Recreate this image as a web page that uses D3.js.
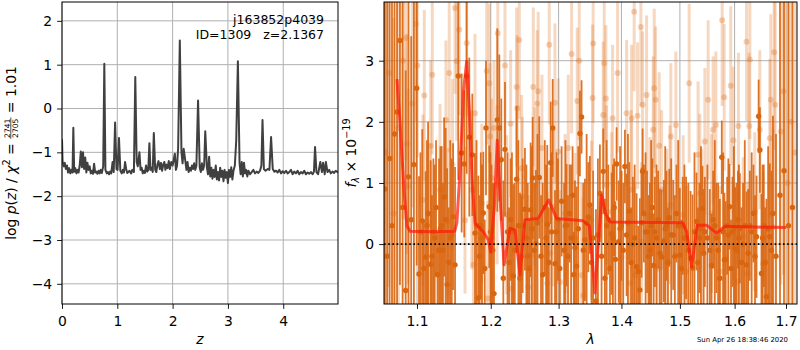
<!DOCTYPE html>
<html lang="en">
<head>
<meta charset="UTF-8">
<title>j163852p4039 - redshift fit</title>
<script src="https://cdn.jsdelivr.net/npm/d3@7"></script>
<style>
  body { margin: 0; background: #fff; }
  svg { display: block; font-family: "DejaVu Sans", sans-serif; }
  .pre { white-space: pre; }
</style>
</head>
<body>
<svg id="chart" width="800" height="350"></svg>
<script>
// ---- data ----
// log p(z) curve, [z, log p]
const pz = [
  [0.000,-0.70],[0.010,-1.20],[0.030,-1.32],[0.050,-1.24],[0.070,-1.38],[0.090,-1.30],[0.110,-1.46],[0.130,-1.36],
  [0.150,-1.48],[0.170,-1.40],[0.190,-1.46],[0.205,-0.44],[0.220,-1.44],[0.240,-1.36],[0.260,-1.48],[0.280,-1.40],
  [0.300,-1.46],[0.320,-1.30],[0.340,-0.98],[0.360,-1.34],[0.380,-1.00],[0.400,-1.38],[0.420,-1.12],[0.440,-1.46],
  [0.460,-1.24],[0.480,-1.40],[0.500,-1.32],[0.520,-1.48],[0.540,-1.42],[0.560,-1.49],[0.580,-1.26],[0.600,-1.46],
  [0.620,-1.44],[0.640,-1.49],[0.660,-1.42],[0.680,-1.48],[0.700,-1.40],[0.720,-1.47],[0.745,-1.32],[0.765,1.02],
  [0.785,-1.40],[0.810,-1.48],[0.830,-1.45],[0.850,-1.50],[0.870,-1.44],[0.890,-1.48],[0.915,-1.22],[0.935,-1.45],
  [0.960,-0.32],[0.985,-1.38],[1.005,-1.40],[1.030,-0.67],[1.055,-1.42],[1.080,-1.48],[1.100,-1.40],[1.120,-1.46],
  [1.140,-1.22],[1.160,-1.38],[1.180,-1.47],[1.200,-1.45],[1.220,-1.42],[1.250,-1.48],[1.270,-1.40],[1.300,-1.45],
  [1.325,0.72],[1.350,-1.22],[1.370,-1.32],[1.400,-1.00],[1.420,-1.40],[1.440,-1.35],[1.460,-1.48],[1.480,-1.42],
  [1.500,-1.47],[1.520,-1.30],[1.540,-1.44],[1.560,-1.40],[1.580,-0.79],[1.600,-1.40],[1.620,-1.35],[1.640,-1.45],
  [1.660,-0.56],[1.685,-1.40],[1.705,-1.45],[1.725,-1.28],[1.745,-1.20],[1.770,-1.38],[1.790,-1.24],[1.810,-1.42],
  [1.830,-1.28],[1.850,-1.22],[1.870,-1.40],[1.890,-1.28],[1.910,-1.36],[1.930,-1.20],[1.950,-1.38],[1.975,-1.22],
  [2.000,-1.30],[2.040,-1.03],[2.060,-1.40],[2.080,-1.30],[2.100,-0.90],[2.130,1.55],[2.160,-1.00],[2.180,-1.25],
  [2.200,-0.92],[2.230,-1.20],[2.250,-1.40],[2.270,-1.22],[2.290,-1.45],[2.310,-1.35],[2.330,-1.42],[2.350,-1.30],
  [2.370,-1.38],[2.390,-1.25],[2.410,-1.40],[2.430,-1.30],[2.460,0.18],[2.490,-1.35],[2.510,-1.45],[2.530,-1.25],
  [2.550,-1.40],[2.570,-1.30],[2.590,-0.52],[2.620,-1.35],[2.640,-1.50],[2.660,-1.10],[2.680,-1.55],[2.700,-1.35],
  [2.720,-1.60],[2.740,-1.40],[2.760,-1.56],[2.780,-1.30],[2.800,-1.62],[2.820,-1.45],[2.840,-1.64],[2.860,-1.35],
  [2.880,-1.56],[2.900,-1.42],[2.920,-1.66],[2.940,-1.40],[2.960,-1.58],[2.980,-1.45],[3.000,-1.70],[3.020,-1.40],
  [3.040,-1.56],[3.060,-1.34],[3.080,-1.62],[3.100,-1.42],[3.125,-1.30],[3.150,-0.73],[3.180,1.08],[3.210,-1.24],
  [3.230,-1.50],[3.250,-1.22],[3.270,-1.55],[3.290,-1.24],[3.310,-1.48],[3.330,-1.40],[3.350,-1.55],[3.370,-1.42],
  [3.400,-1.50],[3.430,-1.45],[3.460,-1.40],[3.490,-1.48],[3.520,-1.44],[3.550,-1.47],[3.580,-1.42],[3.605,-1.30],
  [3.625,-0.26],[3.650,-1.38],[3.680,-1.42],[3.720,-1.38],[3.750,-1.40],[3.780,-0.65],[3.810,-1.38],[3.840,-1.44],
  [3.870,-1.42],[3.900,-1.46],[3.930,-1.40],[3.960,-1.48],[3.990,-1.43],[4.020,-1.47],[4.050,-1.42],[4.080,-1.48],
  [4.110,-1.45],[4.140,-1.40],[4.170,-1.50],[4.200,-1.44],[4.230,-1.48],[4.260,-1.42],[4.290,-1.50],[4.320,-1.45],
  [4.350,-1.48],[4.380,-1.42],[4.410,-1.50],[4.440,-1.46],[4.470,-1.49],[4.500,-1.45],[4.530,-1.50],[4.555,-1.44],
  [4.575,-0.88],[4.600,-1.45],[4.630,-1.50],[4.670,-1.22],[4.700,-1.45],[4.720,-1.24],[4.750,-1.50],[4.770,-1.22],
  [4.800,-1.45],[4.830,-1.40],[4.860,-1.48],[4.890,-1.44],[4.920,-1.47],[4.950,-1.42],[4.990,-1.46]
];

// spectrum, [wavelength (um), flux (1e-19), error]
const darkPoints = [
  [1.0590,0.9,4.5],[1.0620,-0.2,4.2],[1.0650,1.4,4.0],[1.0680,0.3,4.4],[1.0712,1.8,3.9],[1.0744,2.16,3.6],
  [1.0781,3.33,4.0],[1.0815,0.6,3.4],[1.0854,-0.76,3.6],[1.0890,1.1,3.2],[1.0925,0.4,3.0],[1.0960,1.3,2.9],
  [1.0996,2.55,2.9],[1.1026,-0.49,1.6],[1.1069,0.38,1.5],[1.1113,-0.21,1.4],[1.1145,0.5,1.5],[1.1179,-0.33,1.7],
  [1.1215,0.2,1.2],[1.1250,0.6,1.1],[1.1290,-0.1,1.5],[1.1325,0.3,1.3],[1.1358,0.77,1.3],[1.1398,-0.66,1.9],
  [1.1440,0.1,1.6],[1.1478,0.45,1.2],[1.1505,-0.34,1.6],[1.1549,2.75,1.7],[1.1595,1.49,1.3],[1.1631,1.31,1.2],
  [1.1664,2.75,1.6],[1.1700,1.75,1.3],[1.1742,1.46,1.0],[1.1779,0.18,1.3],[1.1825,-0.88,2.0],[1.1860,0.3,1.2],
  [1.1895,0.51,1.0],[1.1933,1.9,1.1],[1.1979,0.61,1.0],[1.2010,0.1,1.2],[1.2046,-0.81,1.8],[1.2093,2.03,1.5],
  [1.2122,1.9,1.2],[1.2150,1.38,1.0],[1.2179,-0.56,1.6],[1.2203,1.55,1.1],[1.2240,0.2,1.3],[1.2285,0.4,1.0],
  [1.2323,-0.52,1.5],[1.2372,1.06,1.2],[1.2421,-0.56,1.4],[1.2460,0.3,1.1],[1.2494,0.57,1.0],[1.2535,-0.2,1.2],
  [1.2578,0.56,1.1],[1.2608,1.08,1.0],[1.2657,0.01,1.2],[1.2707,1.09,1.0],[1.2758,-0.5,1.5],[1.2790,0.6,1.1],
  [1.2827,0.32,1.3],[1.2879,1.33,1.0],[1.2910,1.9,0.8],[1.2945,-0.32,1.2],[1.2990,0.4,1.0],[1.3046,0.7,0.9],
  [1.3085,-0.1,1.1],[1.3123,0.31,1.0],[1.3170,0.5,0.8],[1.3216,0.8,0.8],[1.3253,-0.06,1.1],[1.3279,-0.36,1.3],
  [1.3331,1.81,0.7],[1.3357,2.08,0.6],[1.3410,0.07,1.0],[1.3463,0.44,0.9],[1.3489,0.64,0.8],[1.3540,0.1,1.1],
  [1.3585,-0.93,1.5],[1.3649,0.83,0.8],[1.3703,1.19,0.7],[1.3730,-0.56,1.3],[1.3785,0.4,0.9],[1.3839,0.17,1.0],
  [1.3880,0.6,0.8],[1.3921,1.31,0.6],[1.3955,0.04,1.0],[1.4000,0.3,0.9],[1.4058,1.27,0.6],[1.4086,0.15,1.0],
  [1.4130,0.54,0.8],[1.4190,0.0,1.1],[1.4253,-0.37,1.2],[1.4308,-0.75,1.5],[1.4337,0.35,0.9],[1.4354,1.19,0.7],
  [1.4376,0.5,0.8],[1.4430,0.2,1.0],[1.4478,-0.1,1.1],[1.4520,0.6,0.8],[1.4564,0.2,0.9],[1.4620,0.4,0.8],
  [1.4680,-0.21,1.1],[1.4719,0.05,1.0],[1.4765,0.3,0.9],[1.4812,0.43,0.8],[1.4882,0.15,0.9],[1.4940,0.5,0.8],
  [1.4999,-0.18,1.1],[1.5050,0.3,0.8],[1.5110,0.1,1.0],[1.5189,-0.23,1.1],[1.5224,-0.39,1.2],[1.5296,0.37,0.8],
  [1.5350,0.1,0.9],[1.5404,0.58,0.7],[1.5448,0.2,0.9],[1.5539,-0.1,1.0],[1.5600,0.4,0.8],[1.5660,0.1,0.9],
  [1.5724,-0.56,1.3],[1.5760,1.42,0.6],[1.5808,-0.26,1.1],[1.5860,0.3,0.8],[1.5904,0.61,0.7],[1.5960,0.2,0.9],
  [1.6010,-0.07,1.0],[1.6063,0.4,0.8],[1.6099,0.26,0.9],[1.6160,0.0,1.0],[1.6227,-0.34,1.2],[1.6290,0.3,0.9],
  [1.6360,0.5,0.8],[1.6419,0.12,1.0],[1.6460,2.09,0.6],[1.6485,1.54,0.7],[1.6515,-0.48,1.3],[1.6560,0.3,1.0],
  [1.6612,-0.86,1.6],[1.6678,0.12,1.2],[1.6740,0.5,1.6],[1.6800,-0.2,2.0],[1.6880,0.8,4.5],[1.6960,1.2,5.0],
  [1.7050,0.3,5.0],[1.7130,0.6,5.5],
  // fainter pixels filling the gaps between the ones with visible dots
  [1.1045,0.2,1.3],[1.1090,-0.4,0.8],[1.1130,0.3,1.4],[1.1196,-0.2,1.0],[1.1232,0.1,1.2],[1.1270,-0.5,0.7],
  [1.1308,0.25,1.35],[1.1342,-0.1,1.1],[1.1378,0.4,1.5],[1.1420,-0.3,0.9],[1.1460,0.15,1.25],[1.1800,0.3,1.4],
  [1.1843,-0.2,1.0],[1.1877,0.1,1.2],[1.1915,-0.4,0.8],[1.1995,0.2,1.3],[1.2028,-0.1,1.1],[1.2262,-0.3,0.9],
  [1.2304,0.2,1.3],[1.2345,-0.1,1.1],[1.2398,0.3,1.4],[1.2440,-0.2,1.0],[1.2515,0.1,1.2],[1.2556,-0.4,0.8],
  [1.2596,0.25,1.35],[1.2632,-0.1,1.1],[1.2680,0.35,1.45],[1.2733,-0.2,1.0],[1.2810,0.1,1.2],[1.2850,-0.3,0.9],
  [1.2893,0.2,1.3],[1.2968,0.2,1.3],[1.3018,-0.4,0.8],[1.3105,0.3,1.4],[1.3145,-0.2,1.0],[1.3193,0.1,1.2],
  [1.3235,-0.5,0.7],[1.3305,0.25,1.35],[1.3385,-0.1,1.1],[1.3437,0.35,1.45],[1.3515,-0.3,0.9],[1.3617,0.15,1.25],
  [1.3676,-0.2,1.0],[1.3757,0.3,1.4],[1.3812,-0.4,0.8],[1.3860,0.1,1.2],[1.3900,-0.25,0.95],[1.3978,0.25,1.35],
  [1.4030,-0.1,1.1],[1.4108,0.35,1.45],[1.4160,-0.3,0.9],[1.4220,0.1,1.2],[1.4280,-0.45,0.75],[1.4405,0.2,1.3],
  [1.4455,-0.2,1.0],[1.4500,0.3,1.4],[1.4542,-0.35,0.85],[1.4592,0.1,1.2],[1.4650,-0.15,1.05],[1.4742,0.25,1.35],
  [1.4790,-0.3,0.9],[1.4847,0.15,1.25],[1.4911,-0.2,1.0],[1.4970,0.3,1.4],[1.5025,-0.4,0.8],[1.5080,0.1,1.2],
  [1.5150,-0.1,1.1],[1.5260,0.2,1.3],[1.5323,-0.3,0.9],[1.5377,0.25,1.35],[1.5426,-0.15,1.05],[1.5494,0.1,1.2],
  [1.5570,-0.35,0.85],[1.5630,0.3,1.4],[1.5692,-0.1,1.1],[1.5784,0.2,1.3],[1.5832,-0.25,0.95],[1.5882,0.15,1.25],
  [1.5932,-0.4,0.8],[1.5985,0.25,1.35],[1.6036,-0.1,1.1],[1.6081,0.1,1.2],[1.6130,-0.3,0.9],[1.6193,0.3,1.4],
  [1.6258,-0.15,1.05],[1.6325,0.2,1.3],[1.6390,-0.2,1.0],[1.6537,0.1,1.2],[1.6586,-0.3,0.9],[1.6645,0.25,1.35],
  [1.6710,-0.1,1.3]
];

const lightPoints = [
  [1.0600,1.5,3.5],[1.0640,2.8,3.5],[1.0700,0.5,3.2],[1.0760,1.9,3.0],[1.0820,3.0,2.6],[1.0854,3.37,2.0],
  [1.0870,1.64,1.8],[1.0884,0.94,1.6],[1.0940,2.3,1.7],[1.0987,3.6,1.6],[1.1004,2.92,1.5],[1.1078,0.72,1.4],
  [1.1095,2.43,1.4],[1.1170,0.34,1.3],[1.1179,1.61,1.4],[1.1200,2.77,1.3],[1.1303,0.89,1.4],[1.1382,2.03,1.3],
  [1.1410,0.37,1.2],[1.1426,2.8,1.3],[1.1470,1.3,1.4],[1.1505,3.86,1.4],[1.1527,2.99,1.3],[1.1562,3.51,1.4],
  [1.1641,0.39,1.2],[1.1664,3.29,1.2],[1.1735,0.89,1.3],[1.1757,-0.34,1.4],[1.1779,2.14,1.3],[1.1874,0.67,1.3],
  [1.1943,2.83,1.2],[1.1955,-0.89,1.6],[1.1979,2.63,1.3],[1.1989,1.76,1.2],[1.2013,1.08,1.3],[1.2046,1.9,1.1],
  [1.2089,0.97,1.3],[1.2100,3.45,1.4],[1.2203,2.92,1.3],[1.2228,0.48,1.3],[1.2285,1.97,1.2],[1.2299,-0.73,1.5],
  [1.2372,2.57,1.3],[1.2380,2.22,1.2],[1.2411,3.34,1.3],[1.2445,1.24,1.2],[1.2455,0.78,1.3],[1.2543,-0.7,1.5],
  [1.2593,-0.18,1.4],[1.2617,2.57,1.3],[1.2642,0.94,1.3],[1.2676,2.3,1.2],[1.2691,2.5,1.3],[1.2747,1.57,1.2],
  [1.2827,-0.64,1.5],[1.2857,3.26,1.3],[1.2868,-0.15,1.4],[1.2919,0.61,1.3],[1.2944,2.31,1.3],[1.2994,1.51,1.2],
  [1.3020,-0.62,1.5],[1.3100,0.5,1.3],[1.3149,1.57,1.2],[1.3201,3.11,1.3],[1.3253,0.09,1.4],[1.3289,2.34,1.2],
  [1.3320,3.0,1.3],[1.3357,-0.51,1.5],[1.3382,-0.84,1.6],[1.3515,0.39,1.3],[1.3531,2.39,1.2],[1.3541,3.28,1.3],
  [1.3703,2.11,1.2],[1.3719,2.96,1.3],[1.3746,2.38,1.2],[1.3757,0.97,1.3],[1.3839,0.53,1.3],[1.3855,2.06,1.2],
  [1.3937,2.8,1.3],[1.4003,-0.21,1.4],[1.4086,2.14,1.2],[1.4141,-0.64,1.5],[1.4160,0.89,1.3],[1.4169,2.06,1.2],
  [1.4212,3.8,1.3],[1.4224,-0.51,1.5],[1.4269,2.1,1.2],[1.4325,3.55,1.3],[1.4337,0.04,1.3],[1.4354,2.28,1.2],
  [1.4422,2.44,1.3],[1.4478,0.45,1.3],[1.4535,1.87,1.2],[1.4552,2.55,1.3],[1.4576,2.36,1.2],[1.4621,-0.4,1.4],
  [1.4638,1.61,1.2],[1.4680,0.89,1.3],[1.4766,0.26,1.3],[1.4824,0.64,1.3],[1.4840,1.76,1.2],[1.4929,1.95,1.2],
  [1.5058,0.48,1.3],[1.5117,-0.45,1.4],[1.5165,2.63,1.3],[1.5325,1.46,1.2],[1.5357,0.83,1.3],[1.5388,0.26,1.3],
  [1.5448,1.68,1.2],[1.5508,2.36,1.3],[1.5570,0.5,1.3],[1.5600,1.87,1.2],[1.5650,1.95,1.2],[1.5724,-0.45,1.4],
  [1.5767,3.66,1.4],[1.5805,2.4,1.2],[1.5927,2.59,1.3],[1.5976,1.7,1.2],[1.6063,-0.62,1.5],[1.6072,1.93,1.2],
  [1.6163,0.12,1.3],[1.6227,3.31,1.3],[1.6245,-0.48,1.5],[1.6277,1.93,1.2],[1.6290,3.02,1.3],[1.6386,0.53,1.3],
  [1.6483,1.87,1.3],[1.6548,-0.32,1.5],[1.6678,1.73,1.3],[1.6698,2.36,1.4],[1.6743,0.28,1.6],[1.6764,3.14,1.6],
  [1.6784,2.28,1.8],[1.6897,1.84,2.5],[1.6950,2.5,3.0],[1.7030,1.0,3.5],[1.7100,2.0,4.0],[1.7180,1.5,4.0]
];

// best-fit model, [wavelength, flux]
const model = [
  [1.0744,2.70],[1.0781,2.00],[1.0832,0.90],[1.0870,0.30],[1.0910,0.21],[1.1200,0.20],[1.1500,0.21],
  [1.1530,0.35],[1.1573,1.20],[1.1620,2.50],[1.1664,2.99],[1.1700,2.20],[1.1740,1.00],[1.1780,0.34],
  [1.1895,0.20],[1.1965,0.07],[1.1999,-0.13],[1.2050,0.60],[1.2093,1.70],[1.2140,0.60],[1.2190,-0.34],
  [1.2275,0.26],[1.2348,0.23],[1.2421,-0.50],[1.2494,0.40],[1.2690,0.42],[1.2848,0.72],[1.2970,0.42],
  [1.3380,0.38],[1.3480,0.30],[1.3530,-0.30],[1.3569,-0.80],[1.3610,-0.20],[1.3678,0.80],[1.3740,0.50],
  [1.3813,0.36],[1.5050,0.35],[1.5120,0.20],[1.5210,-0.37],[1.5310,0.31],[1.5480,0.31],[1.5665,0.18],
  [1.5818,0.29],[1.7000,0.27]
];

const zTicks = [0, 1, 2, 3, 4];
const pzTicks = [-4, -3, -2, -1, 0, 1, 2];
const waveTicks = [1.1, 1.2, 1.3, 1.4, 1.5, 1.6, 1.7];
const fluxTicks = [0, 1, 2, 3];
const objName = "j163852p4039";
const objInfo = "ID=1309   z=2.1367";
const stamp = "Sun Apr 26 18:38:46 2020";

// ---- layout ----
const FONT = '"DejaVu Sans", sans-serif';
const TICK_FS = 13.9;
const left = {x0: 62, x1: 338, y0: 2, y1: 304};
const right = {x0: 384, x1: 797, y0: 2, y1: 304};

const svg = d3.select('#chart');

const xz = d3.scaleLinear().domain([0, 4.99]).range([left.x0, left.x1]);
const yz = d3.scaleLinear().domain([-4.46, 2.43]).range([left.y1, left.y0]);
const xw = d3.scaleLog().domain([1.058, 1.7222]).range([right.x0, right.x1]);
const yf = d3.scaleLinear().domain([-0.98, 3.96]).range([right.y1, right.y0]);

const defs = svg.append('defs');
[['clipL', left], ['clipR', right]].forEach(([id, b]) => {
  defs.append('clipPath').attr('id', id).append('rect')
    .attr('x', b.x0).attr('y', b.y0).attr('width', b.x1 - b.x0).attr('height', b.y1 - b.y0);
});

function grid(g, b, xs, ys, xt, yt) {
  g.selectAll(null).data(xt).enter().append('line')
    .attr('x1', d => xs(d)).attr('x2', d => xs(d)).attr('y1', b.y0).attr('y2', b.y1)
    .attr('stroke', '#b0b0b0').attr('stroke-width', 1);
  g.selectAll(null).data(yt).enter().append('line')
    .attr('x1', b.x0).attr('x2', b.x1).attr('y1', d => ys(d)).attr('y2', d => ys(d))
    .attr('stroke', '#b0b0b0').attr('stroke-width', 1);
}

function styleAxis(g, bottom) {
  g.attr('font-family', FONT).attr('font-size', TICK_FS);
  g.select('.domain').remove();
  g.selectAll('.tick line').attr('stroke', '#000').attr('stroke-width', 0.9);
  g.selectAll('.tick text').attr('fill', '#000');
  if (bottom) g.selectAll('.tick text').attr('dy', null).attr('y', 21.8);
}

function spines(b) {
  svg.append('rect').attr('x', b.x0).attr('y', b.y0)
    .attr('width', b.x1 - b.x0).attr('height', b.y1 - b.y0)
    .attr('fill', 'none').attr('stroke', '#000').attr('stroke-width', 1);
}

// ---- left panel: p(z) ----
const gl = svg.append('g');
grid(gl, left, xz, yz, zTicks, pzTicks);

gl.append('path')
  .datum(pz)
  .attr('clip-path', 'url(#clipL)')
  .attr('fill', 'none')
  .attr('stroke', '#404040')
  .attr('stroke-width', 2)
  .attr('stroke-linejoin', 'round')
  .attr('d', d3.line().x(d => xz(d[0])).y(d => yz(d[1])));

svg.append('g').attr('transform', `translate(0,${left.y1})`)
  .call(d3.axisBottom(xz).tickValues(zTicks).tickSize(4.9).tickPadding(4.9).tickFormat(d3.format('d')))
  .call(g => styleAxis(g, true));
svg.append('g').attr('transform', `translate(${left.x0},0)`)
  .call(d3.axisLeft(yz).tickValues(pzTicks).tickSize(4.9).tickPadding(4.9).tickFormat(d3.format('d')))
  .call(g => styleAxis(g, false));
spines(left);

svg.append('text').attr('x', 324).attr('y', 24)
  .attr('text-anchor', 'end').attr('font-family', FONT).attr('font-size', 12.5)
  .text(objName);
svg.append('text').attr('class', 'pre').attr('x', 324).attr('y', 38.5)
  .attr('text-anchor', 'end').attr('font-family', FONT).attr('font-size', 12.5)
  .text(objInfo);

// ---- right panel: spectrum ----
const gr = svg.append('g');
grid(gr, right, xw, yf, waveTicks, fluxTicks);

const gd = gr.append('g').attr('clip-path', 'url(#clipR)');

function errorbars(data, color, barOpacity, barWidth, dotOpacity, r) {
  const g = gd.append('g');
  g.selectAll('line').data(data).enter().append('line')
    .attr('x1', d => xw(d[0])).attr('x2', d => xw(d[0]))
    .attr('y1', d => yf(d[1] - d[2])).attr('y2', d => yf(d[1] + d[2]))
    .attr('stroke', color).attr('stroke-opacity', barOpacity).attr('stroke-width', barWidth);
  g.selectAll('circle').data(data).enter().append('circle')
    .attr('cx', d => xw(d[0])).attr('cy', d => yf(d[1])).attr('r', r)
    .attr('fill', color).attr('fill-opacity', dotOpacity);
}

errorbars(lightPoints, '#e07b2e', 0.3, 3, 0.35, 3);
errorbars(darkPoints, '#d9650f', 0.9, 1.8, 1, 2.7);

gd.append('path')
  .datum(model)
  .attr('fill', 'none')
  .attr('stroke', '#ff1a0a')
  .attr('stroke-opacity', 0.72)
  .attr('stroke-width', 3)
  .attr('stroke-linejoin', 'round')
  .attr('d', d3.line().x(d => xw(d[0])).y(d => yf(d[1])));

gd.append('line')
  .attr('x1', right.x0).attr('x2', right.x1).attr('y1', yf(0)).attr('y2', yf(0))
  .attr('stroke', '#000').attr('stroke-width', 1.6).attr('stroke-dasharray', '1.6,2.6');

svg.append('g').attr('transform', `translate(0,${right.y1})`)
  .call(d3.axisBottom(xw).tickValues(waveTicks).tickSize(4.9).tickPadding(4.9).tickFormat(d3.format('.1f')))
  .call(g => styleAxis(g, true));
svg.append('g').attr('transform', `translate(${right.x0},0)`)
  .call(d3.axisLeft(yf).tickValues(fluxTicks).tickSize(4.9).tickPadding(4.9).tickFormat(d3.format('d')))
  .call(g => styleAxis(g, false));
spines(right);

// ---- labels with math-like pieces ----
function mathLabel(x, y, parts, rotate) {
  const g = svg.append('g').attr('font-family', FONT).attr('fill', '#000');
  const inner = g.append('g');
  let cx = 0;
  parts.forEach(p => {
    if (p.frac) {
      const num = inner.append('text').attr('font-size', p.size).attr('y', p.num).text(p.frac[0]);
      const den = inner.append('text').attr('font-size', p.size).attr('y', p.den).text(p.frac[1]);
      const wn = num.node().getComputedTextLength();
      const wd = den.node().getComputedTextLength();
      const w = Math.max(wn, wd) + 2;
      num.attr('x', cx + (w - wn) / 2);
      den.attr('x', cx + (w - wd) / 2);
      inner.append('line').attr('x1', cx).attr('x2', cx + w)
        .attr('y1', p.bar).attr('y2', p.bar).attr('stroke', '#000').attr('stroke-width', 0.7);
      cx += w;
    } else {
      const t = inner.append('text').attr('class', 'pre')
        .attr('x', cx).attr('y', p.dy || 0)
        .attr('font-size', p.size || TICK_FS)
        .attr('font-style', p.italic ? 'italic' : null)
        .text(p.t);
      cx += t.node().getComputedTextLength();
    }
  });
  inner.attr('transform', `translate(${-cx / 2},0)`);
  g.attr('transform', `translate(${x},${y})` + (rotate ? ' rotate(-90)' : ''));
}

mathLabel(15.5, 153, [
  {t: 'log '}, {t: 'p', italic: true}, {t: '('}, {t: 'z', italic: true}, {t: ') / '},
  {t: 'χ', italic: true}, {t: '2', size: 9.7, dy: -6}, {t: ' = '},
  {frac: ['2741', '2705'], size: 7.6, num: -6.0, den: 2.2, bar: -4.7},
  {t: ' = 1.01'}
], true);

mathLabel(356, 153, [
  {t: 'f', italic: true}, {t: 'λ', italic: true, size: 9.7, dy: 3}, {t: ' × 10'},
  {t: '−19', size: 9.7, dy: -6}
], true);

mathLabel(200, 343.5, [{t: 'z', italic: true}], false);
mathLabel(590.5, 344, [{t: 'λ', italic: true}], false);

svg.append('text').attr('x', 788).attr('y', 341.5)
  .attr('text-anchor', 'end').attr('font-family', FONT).attr('font-size', 6.9)
  .text(stamp);
</script>
</body>
</html>
